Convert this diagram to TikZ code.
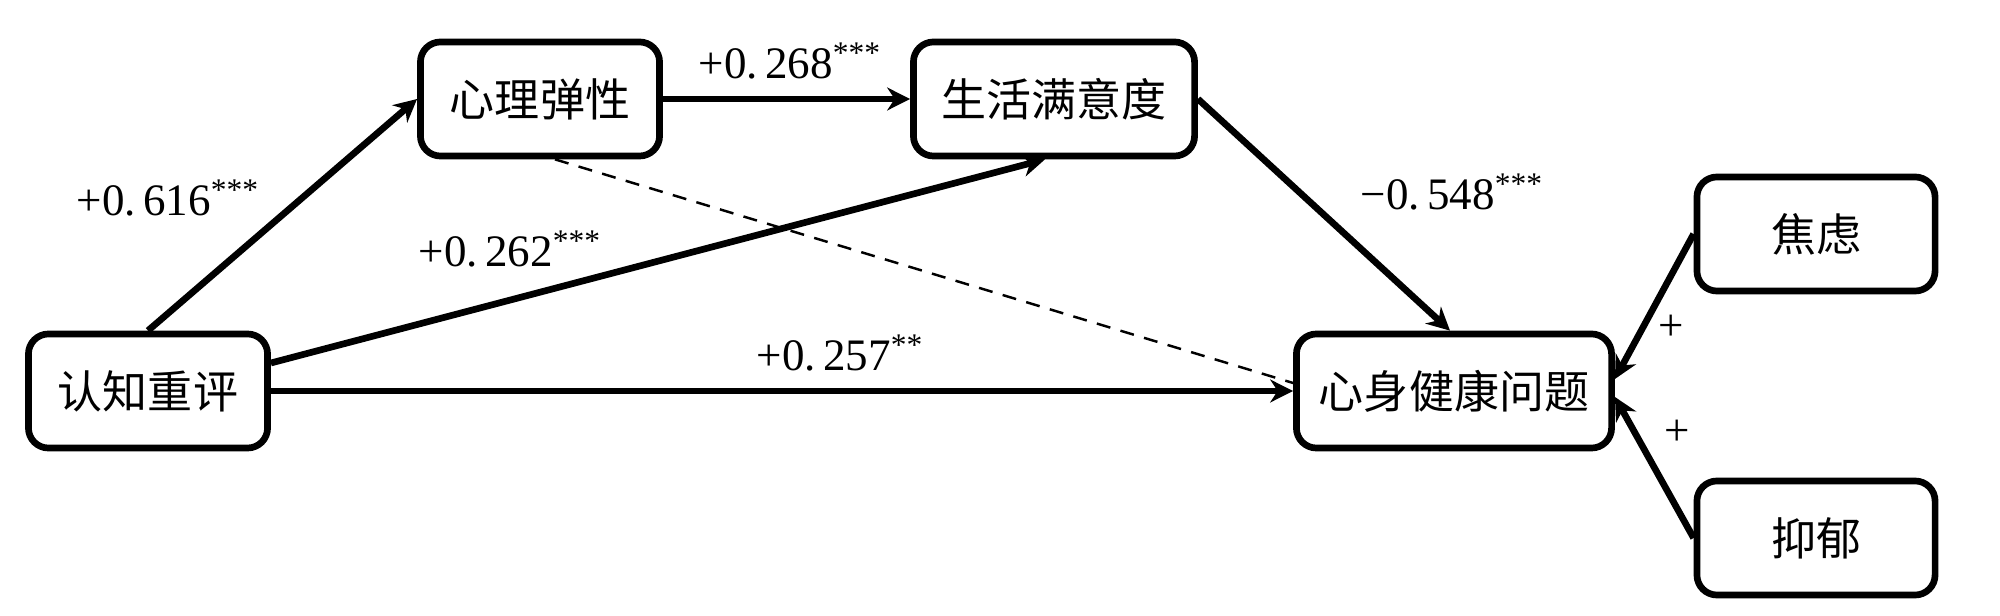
\documentclass[tikz,border=0pt]{standalone}
\usepackage{fontspec}
\setmainfont{Liberation Serif}
\newfontfamily\song{Noto Sans CJK SC}
\usetikzlibrary{arrows.meta,calc}
\begin{document}
\begin{tikzpicture}[x=0.01cm,y=-0.01cm,
  box/.style={draw,line width=1.9pt,rounded corners=5.7pt,inner sep=0pt,
    minimum height=1.14cm,font=\song\fontsize{12.8}{15}\selectfont},
  conn/.style={line width=1.9pt,-{Stealth[length=6.5pt,width=6.5pt]}},
  dashconn/.style={line width=0.7pt,dashed,dash pattern=on 4pt off 3pt},
  lab/.style={inner sep=0pt,anchor=west,font=\fontsize{12.8}{15}\selectfont}]
\useasboundingbox (0,0) rectangle (2000,616);
\node[box,minimum width=2.39cm] (a) at (148,391) {认知重评};
\node[box,minimum width=2.39cm] (b) at (540,99) {心理弹性};
\node[box,minimum width=2.81cm] (c) at (1054,99) {生活满意度};
\node[box,minimum width=3.15cm] (d) at (1454,391) {心身健康问题};
\node[box,minimum width=2.38cm] (e) at (1816,234) {焦虑};
\node[box,minimum width=2.38cm] (f) at (1816,538) {抑郁};
\draw[conn] (a.north) -- (b.west);
\draw[conn] (b.east) -- (c.west);
\draw[conn] ($(a.east)+(0,-28)$) -- ($(c.south)+(-9,0)$);
\draw[conn] (a.east) -- (d.west);
\draw[dashconn] ($(b.south)+(15,0)$) -- ($(d.west)+(0,-8)$);
\draw[conn] (c.east) -- ($(d.north)+(-4,0)$);
\draw[conn] (e.west) -- ($(d.east)+(0,-12)$);
\draw[conn] (f.west) -- ($(d.east)+(0,6)$);
\node[lab] (l1) at (76,198) {+0.\,616\textsuperscript{***}};
\node[lab] (l2) at (698,61) {+0.\,268\textsuperscript{***}};
\node[lab] (l3) at (418,249) {+0.\,262\textsuperscript{***}};
\node[lab] (l4) at (756,353) {+0.\,257\textsuperscript{**}};
\node[lab] (l5) at (1360,192) {−0.\,548\textsuperscript{***}};
\node[lab,anchor=center] (p1) at (1671,328) {+};
\node[lab,anchor=center] (p2) at (1677,433) {+};
\end{tikzpicture}
\end{document}
